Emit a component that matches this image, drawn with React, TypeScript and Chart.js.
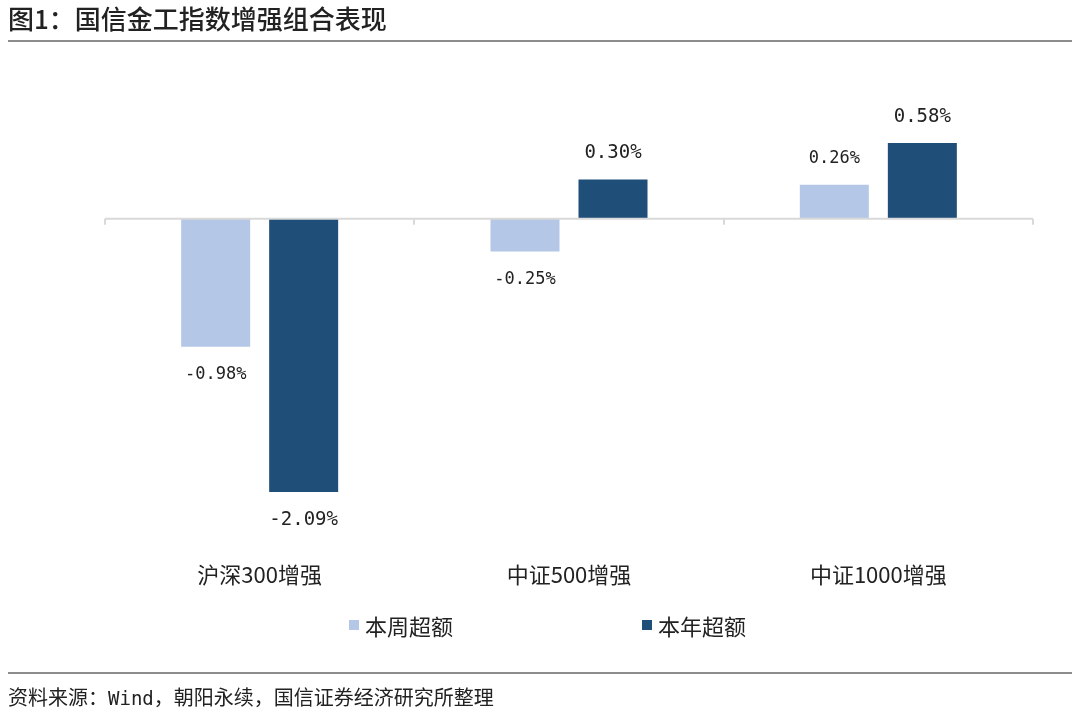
import React, { useEffect, useRef } from "react";
import { Chart, registerables } from "chart.js";

Chart.register(...registerables);

const categories = ["沪深300增强", "中证500增强", "中证1000增强"];
const seriesNames = ["本周超额", "本年超额"];
const weekValues = [-0.98, -0.25, 0.26];
const yearValues = [-2.09, 0.3, 0.58];
const seriesColors = ["#B4C7E7", "#1F4E79"];
const titleText = "图1：国信金工指数增强组合表现";
const sourceText = ["资料来源：", "Wind", "，朝阳永续，国信证券经济研究所整理"];

const CJK = '"Noto Sans CJK SC", "Noto Sans", sans-serif';
const MONO = '"DejaVu Sans Mono", monospace';

const overlayPlugin = {
  id: "overlay",
  afterDatasetsDraw(chart: any) {
    const ctx = chart.ctx;
    const area = chart.chartArea;
    const x = chart.scales.x;
    const y = chart.scales.y;
    const y0 = y.getPixelForValue(0);
    ctx.save();
    // zero line
    ctx.strokeStyle = "#D9D9D9";
    ctx.lineWidth = 2;
    ctx.beginPath();
    ctx.moveTo(area.left, y0);
    ctx.lineTo(area.right, y0);
    ctx.stroke();
    // boundary ticks
    const n = categories.length;
    const bounds: number[] = [area.left];
    for (let i = 0; i < n - 1; i++) {
      bounds.push((x.getPixelForValue(i) + x.getPixelForValue(i + 1)) / 2);
    }
    bounds.push(area.right);
    ctx.beginPath();
    bounds.forEach((b) => {
      const bx = Math.round(b);
      ctx.moveTo(bx, y0);
      ctx.lineTo(bx, y0 + 6);
    });
    ctx.stroke();
    // data labels
    ctx.textAlign = "center";
    ctx.textBaseline = "middle";
    ctx.fillStyle = "#222";
    chart.data.datasets.forEach((ds: any, di: number) => {
      const meta = chart.getDatasetMeta(di);
      ctx.font = (di === 0 ? "17px " : "19px ") + MONO;
      meta.data.forEach((bar: any, i: number) => {
        const v = ds.data[i];
        const txt = v.toFixed(2) + "%";
        const off = v >= 0 ? -26 : 28;
        ctx.fillText(txt, bar.x, bar.y + off);
      });
    });
    // category labels
    ctx.font = "22px " + CJK;
    ctx.fillStyle = "#222";
    categories.forEach((c, i) => {
      ctx.fillText(c, x.getPixelForValue(i), area.bottom + 29);
    });
    ctx.restore();
  },
};

export default function App() {
  const ref = useRef<HTMLCanvasElement | null>(null);
  useEffect(() => {
    if (!ref.current) return;
    const chart = new Chart(ref.current, {
      type: "bar",
      data: {
        labels: categories,
        datasets: [
          {
            label: seriesNames[0],
            data: weekValues,
            backgroundColor: seriesColors[0],
            categoryPercentage: 0.569,
            barPercentage: 0.784,
          },
          {
            label: seriesNames[1],
            data: yearValues,
            backgroundColor: seriesColors[1],
            categoryPercentage: 0.569,
            barPercentage: 0.784,
          },
        ],
      },
      options: {
        animation: false,
        responsive: false,
        maintainAspectRatio: false,
        layout: { padding: { left: 105, right: 47, top: 37, bottom: 65.5 } },
        plugins: { legend: { display: false }, tooltip: { enabled: false } },
        scales: {
          x: { display: false },
          y: { display: false, min: -2.5, max: 1.0 },
        },
      },
      plugins: [overlayPlugin],
    });
    return () => chart.destroy();
  }, []);

  return (
    <div
      style={{
        position: "fixed",
        left: 0,
        top: 0,
        width: 1080,
        height: 722,
        background: "#fff",
        fontFamily: CJK,
        color: "#222",
      }}
    >
      <div
        style={{
          position: "absolute",
          left: 8,
          top: 2,
          fontSize: 26,
          fontWeight: 500,
          lineHeight: "32px",
          whiteSpace: "nowrap",
        }}
      >
        {titleText}
      </div>
      <div
        style={{
          position: "absolute",
          left: 8,
          top: 40,
          width: 1064,
          height: 2,
          background: "#8C8C8C",
        }}
      />
      <canvas
        ref={ref}
        width={1080}
        height={560}
        style={{ position: "absolute", left: 0, top: 51, width: 1080, height: 560 }}
      />
      {seriesNames.map((name, i) => (
        <div
          key={name}
          style={{
            position: "absolute",
            left: i === 0 ? 349 : 642,
            top: 609,
            height: 32,
            display: "flex",
            alignItems: "center",
            fontSize: 22,
            whiteSpace: "nowrap",
          }}
        >
          <span
            style={{
              display: "inline-block",
              width: 10,
              height: 10,
              background: seriesColors[i],
              marginRight: 6,
            }}
          />
          {name}
        </div>
      ))}
      <div
        style={{
          position: "absolute",
          left: 8,
          top: 672,
          width: 1064,
          height: 2,
          background: "#8C8C8C",
        }}
      />
      <div
        style={{
          position: "absolute",
          left: 8,
          top: 682,
          fontSize: 20,
          lineHeight: "30px",
          whiteSpace: "nowrap",
        }}
      >
        {sourceText[0]}
        <span style={{ fontFamily: MONO, fontSize: 19 }}>{sourceText[1]}</span>
        {sourceText[2]}
      </div>
    </div>
  );
}
